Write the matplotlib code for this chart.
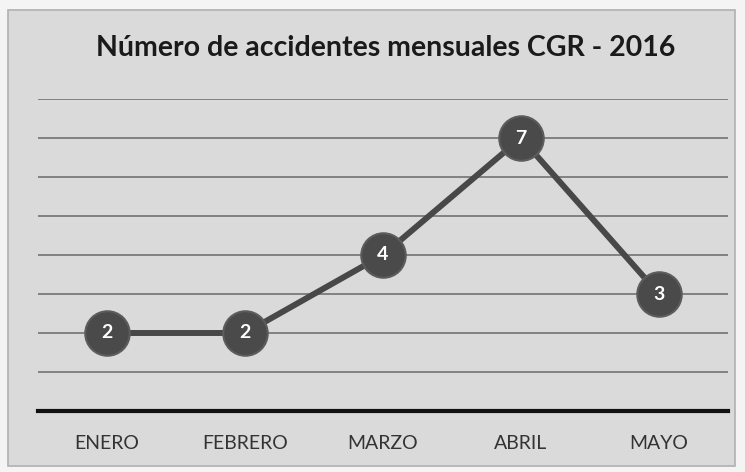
import matplotlib
matplotlib.use("Agg")
from matplotlib import pyplot as plt
from matplotlib.patches import Rectangle

meses = ['ENERO', 'FEBRERO', 'MARZO', 'ABRIL', 'MAYO']
accidentes = [2, 2, 4, 7, 3]
titulo = 'Número de accidentes mensuales CGR - 2016'

plt.rcParams['font.family'] = ['Lato', 'DejaVu Sans']

fig = plt.figure(figsize=(7.45, 4.72), dpi=100)
fig.patch.set_facecolor('#f4f4f4')
fig.patches.append(Rectangle((8 / 745, 6 / 472), 727 / 745, 456 / 472,
                             transform=fig.transFigure, facecolor='#dadada',
                             edgecolor='#b0b0b0', linewidth=1.2, zorder=-10))

ax = fig.add_axes([38 / 745, 61 / 472, 690 / 745, 312 / 472])
ax.set_facecolor('none')

x = list(range(len(meses)))
ax.plot(x, accidentes, color='#484848', linewidth=4.3, zorder=3)
ax.plot(x, accidentes, linestyle='none', marker='o', markersize=32,
        markerfacecolor='#4a4a4a', markeredgecolor='#5c5c5c',
        markeredgewidth=1.5, zorder=4)
for xi, v in zip(x, accidentes):
    ax.text(xi, v, str(v), ha='center', va='center', color='white',
            fontsize=14, fontweight='bold', zorder=5)

ax.set_xlim(-0.5, len(meses) - 0.5)
ax.set_ylim(0, 8)
ax.set_yticks(range(0, 9))
ax.yaxis.grid(True, color='#7a7a7a', linewidth=1.3)
ax.set_axisbelow(True)
ax.tick_params(axis='y', left=False, labelleft=False)
ax.set_xticks(x)
ax.set_xticklabels(meses, fontsize=14, color='#333333')
ax.tick_params(axis='x', length=0, pad=17)

for s in ['top', 'right', 'left']:
    ax.spines[s].set_visible(False)
ax.spines['bottom'].set_color('#111111')
ax.spines['bottom'].set_linewidth(3)

fig.text(386 / 745, 1 - 48 / 472, titulo, ha='center', va='center',
         fontsize=20.5, fontweight='bold', color='#1a1a1a')

fig.savefig('out.png', dpi=100, facecolor=fig.get_facecolor())
